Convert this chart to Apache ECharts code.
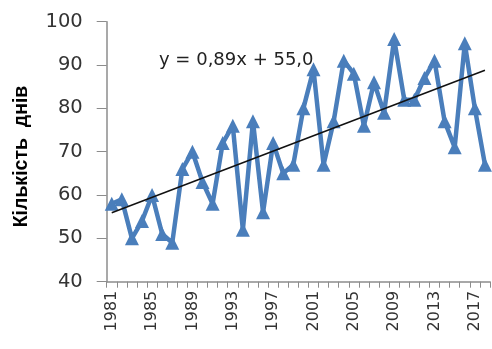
<!DOCTYPE html>
<html>
<head>
<meta charset="utf-8">
<script src="https://cdn.jsdelivr.net/npm/echarts@6/dist/echarts.min.js"></script>
<style>
html,body{margin:0;padding:0;background:#fff;}
#chart{width:492px;height:349px;}
</style>
</head>
<body>
<div id="chart"></div>
<script>
const years = ['1981','1982','1983','1984','1985','1986','1987','1988','1989','1990',
  '1991','1992','1993','1994','1995','1996','1997','1998','1999','2000',
  '2001','2002','2003','2004','2005','2006','2007','2008','2009','2010',
  '2011','2012','2013','2014','2015','2016','2017','2018'];
const days = [58,59,50,54,60,51,49,66,70,63,
  58,72,76,52,77,56,72,65,67,80,
  89,67,77,91,88,76,86,79,96,82,
  82,87,91,77,71,95,80,67];
const trendPoints = [['1981',55.9],['2018',88.8]];
const trendLabel = 'y = 0,89x + 55,0';
const yTitle = 'Кількість  днів';
const yMin = 40, yMax = 100, yStep = 10;

const chart = echarts.init(document.getElementById('chart'));
chart.setOption({
  animation:false,
  grid:{left:106.7,right:2,top:21.7,bottom:67.3},
  xAxis:{
    type:'category',
    data:years,
    boundaryGap:true,
    axisLine:{lineStyle:{color:'#8c8c8c',width:1.5}},
    axisTick:{show:true,interval:0,length:6,lineStyle:{color:'#8c8c8c'}},
    axisLabel:{interval:3,rotate:90,fontSize:16,color:'#333',fontFamily:'DejaVu Sans',margin:9},
    splitLine:{show:false}
  },
  yAxis:{
    type:'value',
    min:yMin,max:yMax,interval:yStep,
    axisLine:{show:true,lineStyle:{color:'#8c8c8c',width:1.5}},
    axisTick:{show:true,length:10,lineStyle:{color:'#8c8c8c'}},
    axisLabel:{fontSize:19.5,color:'#333',fontFamily:'DejaVu Sans',margin:24},
    splitLine:{show:false}
  },
  series:[
    {
      type:'line',
      data:days,
      symbol:'triangle',
      symbolSize:14,
      showAllSymbol:true,
      lineStyle:{color:'#4a7ebb',width:4.5},
      itemStyle:{color:'#4a7ebb'},
      z:2
    },
    {
      type:'line',
      data:trendPoints,
      symbol:'none',
      lineStyle:{color:'#111',width:1.5},
      z:3
    }
  ],
  graphic:[
    {
      type:'text',
      x:159,
      y:60,
      style:{text:trendLabel,fontSize:18,fill:'#222',fontFamily:'DejaVu Sans',verticalAlign:'middle',align:'left'},
      z:1
    },
    {
      type:'text',
      x:22,
      y:156.5,
      rotation:Math.PI/2,
      style:{text:yTitle,fontSize:19.5,fontWeight:'bold',fill:'#000',fontFamily:'Liberation Sans',verticalAlign:'middle',align:'center'},
      z:1
    }
  ]
});
</script>
</body>
</html>
